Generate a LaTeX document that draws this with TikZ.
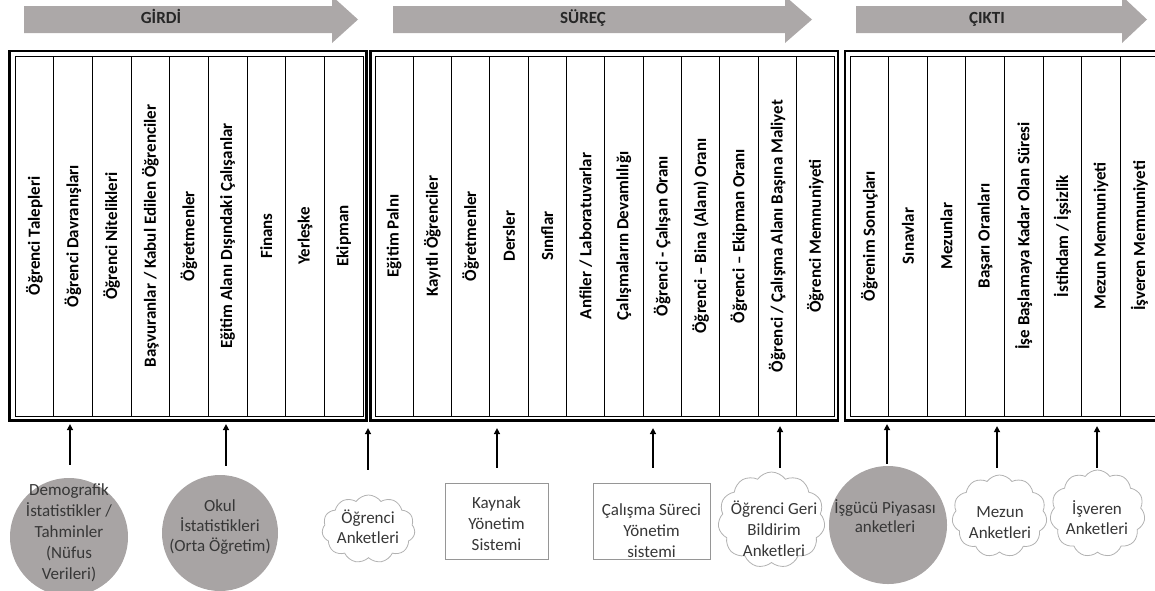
\documentclass[tikz,border=0pt]{standalone}
\usepackage{fontspec}
\setmainfont{Carlito}
\usetikzlibrary{arrows.meta,shapes.symbols}
\definecolor{bandgray}{RGB}{172,168,168}
\definecolor{discgray}{RGB}{168,164,164}
\definecolor{inkgray}{RGB}{55,55,55}
\definecolor{edgegray}{RGB}{150,150,150}
\definecolor{puffgray}{RGB}{178,178,178}
\begin{document}
\begin{tikzpicture}[x=1pt,y=-1pt,
  band/.style={fill=bandgray},
  bandtitle/.style={font=\fontsize{17}{20}\selectfont\bfseries, text=black!85, inner sep=0pt, anchor=base},
  frame/.style={draw=black, line width=2.2pt, inner sep=0pt},
  col/.style={draw=black, line width=0.9pt, rotate=90, minimum width=360pt,
    minimum height=#1, inner sep=0pt, font=\fontsize{17}{20}\selectfont\bfseries},
  disc/.style={circle, fill=discgray, inner sep=0pt},
  sysbox/.style={draw=edgegray, line width=1pt, fill=white, inner sep=0pt},
  survey/.style={cloud, cloud puffs=11, cloud puff arc=110, cloud ignores aspect,
    draw=puffgray, line width=0.8pt, fill=white, inner sep=0pt},
  lbl/.style={align=center, text=inkgray, inner sep=0pt, font=\fontsize{17}{21}\selectfont},
  up/.style={-{Triangle[length=6pt,width=6pt]}, line width=2.2pt, black}
]
\useasboundingbox (0,0) rectangle (1155,590);

% --- stage bands along the top ---
\fill[band] (24,6) -- (332,6) -- (332,-4) -- (358,19.5) -- (332,43) -- (332,33) -- (24,33) -- cycle;
\fill[band] (393,6) -- (785,6) -- (785,-4) -- (812,19.5) -- (785,43) -- (785,33) -- (393,33) -- cycle;
\fill[band] (856,6) -- (1122,6) -- (1122,-4) -- (1147,19.5) -- (1122,43) -- (1122,33) -- (856,33) -- cycle;
\node[bandtitle] (tin)  at (161,23.5) {GİRDİ};
\node[bandtitle] (tpro) at (583,23.5) {SÜREÇ};
\node[bandtitle] (tout) at (987,23.5) {ÇIKTI};

% --- outer frames ---
\node[frame, minimum width=357pt, minimum height=369.5pt] (f1) at (188,235.75) {};
\node[frame, minimum width=467.5pt, minimum height=369.5pt] (f2) at (604.25,235.75) {};
\node[frame, minimum width=325pt, minimum height=369.5pt] (f3) at (1007.5,235.75) {};

% --- indicator columns ---
\foreach [count=\i] \t in {{Öğrenci Talepleri},{Öğrenci Davranışları},{Öğrenci Nitelikleri},
  {Başvuranlar / Kabul Edilen Öğrenciler},{Öğretmenler},{Eğitim Alanı Dışındaki Çalışanlar},
  {Finans},{Yerleşke},{Ekipman}}
  \node[col=38.667pt] (a\i) at ({15+38.667*(\i-0.5)},236) {\t};

\foreach [count=\i] \t in {{Eğitim Palnı},{Kayıtlı Öğrenciler},{Öğretmenler},{Dersler},
  {Sınıflar},{Anfiler / Laboratuvarlar},{Çalışmaların Devamlılığı},{Öğrenci - Çalışan Oranı},
  {Öğrenci – Bina (Alanı) Oranı},{Öğrenci – Ekipman Oranı},
  {Öğrenci / Çalışma Alanı Başına Maliyet},{Öğrenci Memnuniyeti}}
  \node[col=38.3pt] (b\i) at ({375+38.3*(\i-0.5)},236) {\t};

\foreach [count=\i] \t in {{Öğrenim Sonuçları},{Sınavlar},{Mezunlar},{Başarı Oranları},
  {İşe Başlamaya Kadar Olan Süresi},{İstihdam / İşsizlik},{Mezun Memnuniyeti},
  {İşveren Memnuniyeti}}
  \node[col=38.6pt] (c\i) at ({850+38.6*(\i-0.5)},236) {\t};

% --- data sources ---
\node[disc, minimum size=118pt] (s1) at (69,537) {};
\node[lbl] (l1) at (69,532.5) {Demografik\\İstatistikler /\\Tahminler\\(Nüfus\\Verileri)};
\node[disc, minimum size=116pt] (s2) at (220,533) {};
\node[lbl, font=\fontsize{17}{20}\selectfont] (l2) at (220,527) {Okul\\İstatistikleri\\(Orta Öğretim)};
\node[survey, minimum width=93pt, minimum height=68pt] (s3) at (368.5,529) {};
\node[lbl, font=\fontsize{17}{20}\selectfont] (l3) at (368,527) {Öğrenci\\Anketleri};
\node[sysbox, minimum width=103pt, minimum height=76pt] (s4) at (496.5,521) {};
\node[lbl] (l4) at (496.5,523.5) {Kaynak\\Yönetim\\Sistemi};
\node[sysbox, minimum width=117pt, minimum height=76pt] (s5) at (651.5,521) {};
\node[lbl] (l5) at (651.5,530.5) {Çalışma Süreci\\Yönetim\\sistemi};
\node[survey, minimum width=107pt, minimum height=96pt] (s6) at (771.5,520) {};
\node[lbl] (l6) at (774,528.5) {Öğrenci Geri\\Bildirim\\Anketleri};
\node[disc, minimum size=118pt] (s7) at (888,525) {};
\node[lbl, font=\fontsize{17}{19}\selectfont] (l7) at (885,516) {İşgücü Piyasası\\anketleri};
\node[survey, minimum width=95pt, minimum height=82pt] (s8) at (999.5,516) {};
\node[lbl] (l8) at (1000,522.5) {Mezun\\Anketleri};
\node[survey, minimum width=95pt, minimum height=87pt] (s9) at (1097.5,513.5) {};
\node[lbl, font=\fontsize{17}{20}\selectfont] (l9) at (1097,518) {İşveren\\Anketleri};

% --- feeds into the frames ---
\draw[up, shorten <=13pt, shorten >=2.5pt] ([xshift=1pt]s1.north) -- ([xshift=1pt]s1.north |- f1.south);
\draw[up, shorten <=9pt,  shorten >=2.5pt] ([xshift=6pt]s2.north) -- ([xshift=6pt]s2.north |- f1.south);
\draw[up, shorten <=25pt, shorten >=6.5pt] ([xshift=-0.5pt]s3.north) -- ([xshift=-0.5pt]s3.north |- f2.south);
\draw[up, shorten <=15pt, shorten >=6.5pt] ([xshift=0.5pt]s4.north) -- ([xshift=0.5pt]s4.north |- f2.south);
\draw[up, shorten <=15pt, shorten >=6.5pt] ([xshift=1.5pt]s5.north) -- ([xshift=1.5pt]s5.north |- f2.south);
\draw[up, shorten <=4pt,  shorten >=4.5pt] ([xshift=8.5pt]s6.north) -- ([xshift=8.5pt]s6.north |- f2.south);
\draw[up, shorten <=2pt,  shorten >=2.5pt] ([xshift=-1pt]s7.north) -- ([xshift=-1pt]s7.north |- f3.south);
\draw[up, shorten <=7pt,  shorten >=4.5pt] ([xshift=-2.5pt]s8.north) -- ([xshift=-2.5pt]s8.north |- f3.south);
\draw[up, shorten <=2pt,  shorten >=4.5pt] ([xshift=-0.5pt]s9.north) -- ([xshift=-0.5pt]s9.north |- f3.south);
\end{tikzpicture}
\end{document}
